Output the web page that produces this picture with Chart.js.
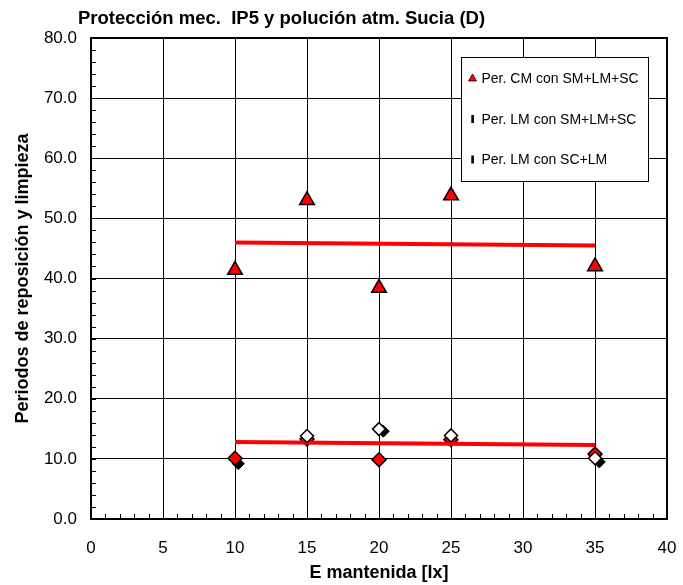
<!DOCTYPE html>
<html>
<head>
<meta charset="utf-8">
<script src="https://cdn.jsdelivr.net/npm/chart.js@4/dist/chart.umd.min.js"></script>
<style>
  html, body { margin: 0; padding: 0; background: #fff; }
  #wrap { width: 683px; height: 585px; }
</style>
</head>
<body>
<div id="wrap"><canvas id="c" width="683" height="585"></canvas></div>
<script>
// E mantenida [lx]
const lux = [10, 15, 20, 25, 35];

// Periodos (años)
const cmSmLmSc = [41.4, 53.0, 38.4, 53.8, 42.0];   // Per. CM con SM+LM+SC
const lmSmLmSc = [10.1, 13.3, 9.85, 13.2, 10.8];   // Per. LM con SM+LM+SC
const lmScLm   = [null, 13.8, 14.95, 13.9, 10.1];  // Per. LM con SC+LM

// marcas oscuras desplazadas junto a los rombos
const sombraX = [10.23, 20.3, 35.3];
const sombraY = [9.2, 14.6, 9.5];

// líneas de tendencia
const tendCmX = [10, 35];
const tendCmY = [46.0, 45.5];
const tendLmX = [10, 35];
const tendLmY = [12.8, 12.3];

// ejes
const xTicks = [0, 5, 10, 15, 20, 25, 30, 35, 40];
const yTicks = [0, 10, 20, 30, 40, 50, 60, 70, 80];

const titulo = 'Protección mec.  IP5 y polución atm. Sucia (D)';
const tituloX = 'E mantenida [lx]';
const tituloY = 'Periodos de reposición y limpieza';

const pts = (xs, ys) => xs.map((x, i) => ({ x: x, y: ys[i] }));

const FONT = "'Liberation Sans', Arial, sans-serif";
Chart.defaults.color = '#000';
Chart.defaults.font.family = FONT;

// título del gráfico
const tituloPlugin = {
  id: 'tituloPlugin',
  afterDraw(chart) {
    const ctx = chart.ctx;
    ctx.save();
    ctx.font = 'bold 18.5px ' + FONT;
    ctx.fillStyle = '#000';
    ctx.textAlign = 'left';
    ctx.textBaseline = 'alphabetic';
    ctx.fillText(titulo, chart.chartArea.left - 13, 24);
    ctx.restore();
  }
};

// marco del área y marcas menores hacia dentro
const marcoPlugin = {
  id: 'marcoPlugin',
  beforeDatasetsDraw(chart) {
    const { ctx, chartArea: a, scales } = chart;
    ctx.save();
    ctx.strokeStyle = '#000';
    ctx.lineWidth = 1;
    ctx.beginPath();
    for (let v = 0; v <= 40; v += 1) {
      const px = Math.round(scales.x.getPixelForValue(v)) + 0.5;
      ctx.moveTo(px, a.bottom);
      ctx.lineTo(px, a.bottom - 5);
    }
    for (let v = 0; v <= 80; v += 2) {
      const py = Math.round(scales.y.getPixelForValue(v)) + 0.5;
      ctx.moveTo(a.left, py);
      ctx.lineTo(a.left + 5, py);
    }
    ctx.stroke();
    ctx.lineWidth = 2;
    ctx.strokeRect(a.left, a.top, a.right - a.left, a.bottom - a.top);
    ctx.restore();
  }
};

// leyenda dentro del área de trazado
const leyendaPlugin = {
  id: 'leyendaPlugin',
  afterDatasetsDraw(chart) {
    const { ctx, chartArea: a } = chart;
    const bx = a.right - 206, by = a.top + 19, bw = 187, bh = 124;
    ctx.save();
    ctx.fillStyle = '#fff';
    ctx.fillRect(bx, by, bw, bh);
    ctx.strokeStyle = '#000';
    ctx.lineWidth = 1;
    ctx.strokeRect(bx + 0.5, by + 0.5, bw, bh);
    const items = chart.data.datasets.filter(d => d.enLeyenda);
    ctx.font = '14px ' + FONT;
    ctx.textBaseline = 'middle';
    ctx.textAlign = 'left';
    items.forEach((d, i) => {
      const cy = by + 21.5 + i * 40.5;
      const mx = bx + 11.5;
      if (d.marcaLeyenda === 'triangulo') {
        ctx.beginPath();
        ctx.moveTo(mx, cy - 4.5);
        ctx.lineTo(mx + 4, cy + 2.5);
        ctx.lineTo(mx - 4, cy + 2.5);
        ctx.closePath();
        ctx.fillStyle = '#ff0000';
        ctx.fill();
        ctx.strokeStyle = '#000';
        ctx.lineWidth = 0.8;
        ctx.stroke();
      } else {
        ctx.fillStyle = '#000';
        ctx.fillRect(mx - 1.2, cy - 4, 2.6, 8);
      }
      ctx.fillStyle = '#000';
      ctx.fillText(d.label, bx + 20.5, cy + 1);
    });
    ctx.restore();
  }
};

new Chart(document.getElementById('c'), {
  type: 'scatter',
  data: {
    datasets: [
      {
        label: 'Per. CM con SM+LM+SC',
        enLeyenda: true, marcaLeyenda: 'triangulo',
        data: pts(lux, cmSmLmSc),
        pointStyle: 'triangle', pointRadius: 8.5,
        backgroundColor: '#ff0000', borderColor: '#000', borderWidth: 1.5,
        order: 0
      },
      {
        label: 'Per. LM con SM+LM+SC',
        enLeyenda: true, marcaLeyenda: 'barra',
        data: pts(lux, lmSmLmSc),
        pointStyle: 'rectRot', pointRadius: 7,
        backgroundColor: '#ff0000', borderColor: '#000', borderWidth: 1.5,
        order: 4
      },
      {
        label: 'Per. LM con SC+LM',
        enLeyenda: true, marcaLeyenda: 'barra',
        data: pts(lux, lmScLm),
        pointStyle: 'rectRot', pointRadius: 6.5,
        backgroundColor: '#ffffff', borderColor: '#000', borderWidth: 1.5,
        order: 1
      },
      {
        label: 'sombra',
        data: pts(sombraX, sombraY),
        pointStyle: 'rectRot', pointRadius: 6,
        backgroundColor: '#000', borderColor: '#000', borderWidth: 1,
        order: 5
      },
      {
        label: 'tendencia CM',
        data: pts(tendCmX, tendCmY),
        showLine: true, pointRadius: 0,
        borderColor: '#ff0000', borderWidth: 4,
        order: 2
      },
      {
        label: 'tendencia LM',
        data: pts(tendLmX, tendLmY),
        showLine: true, pointRadius: 0,
        borderColor: '#ff0000', borderWidth: 4,
        order: 3
      }
    ]
  },
  options: {
    responsive: false,
    animation: false,
    devicePixelRatio: 1,
    layout: { padding: { top: 38, right: 16, left: 0, bottom: 0 } },
    plugins: {
      legend: { display: false },
      tooltip: { enabled: false },
      title: { display: false }
    },
    scales: {
      x: {
        type: 'linear', min: xTicks[0], max: xTicks[xTicks.length - 1],
        afterBuildTicks(s) { s.ticks = xTicks.map(v => ({ value: v })); },
        afterFit(s) { s.height = 66; s.paddingLeft = 0; s.paddingRight = 0; },
        ticks: { font: { size: 17 }, padding: 19, color: '#000' },
        grid: { color: '#000', lineWidth: 1, drawTicks: false },
        border: { display: true, color: '#000', width: 2 },
        title: {
          display: true, text: tituloX,
          font: { size: 18, weight: 'bold' },
          padding: { top: 0, bottom: 1 }
        }
      },
      y: {
        type: 'linear', min: yTicks[0], max: yTicks[yTicks.length - 1],
        afterBuildTicks(s) { s.ticks = yTicks.map(v => ({ value: v })); },
        afterFit(s) { s.width = 91; s.paddingTop = 0; s.paddingBottom = 0; },
        ticks: {
          font: { size: 17 }, padding: 14, color: '#000',
          callback: v => Number(v).toFixed(1)
        },
        grid: { color: '#000', lineWidth: 1, drawTicks: false },
        border: { display: true, color: '#000', width: 2 },
        title: {
          display: true, text: tituloY,
          font: { size: 18, weight: 'bold' },
          padding: { top: 12, bottom: 0 }
        }
      }
    }
  },
  plugins: [marcoPlugin, leyendaPlugin, tituloPlugin]
});
</script>
</body>
</html>
